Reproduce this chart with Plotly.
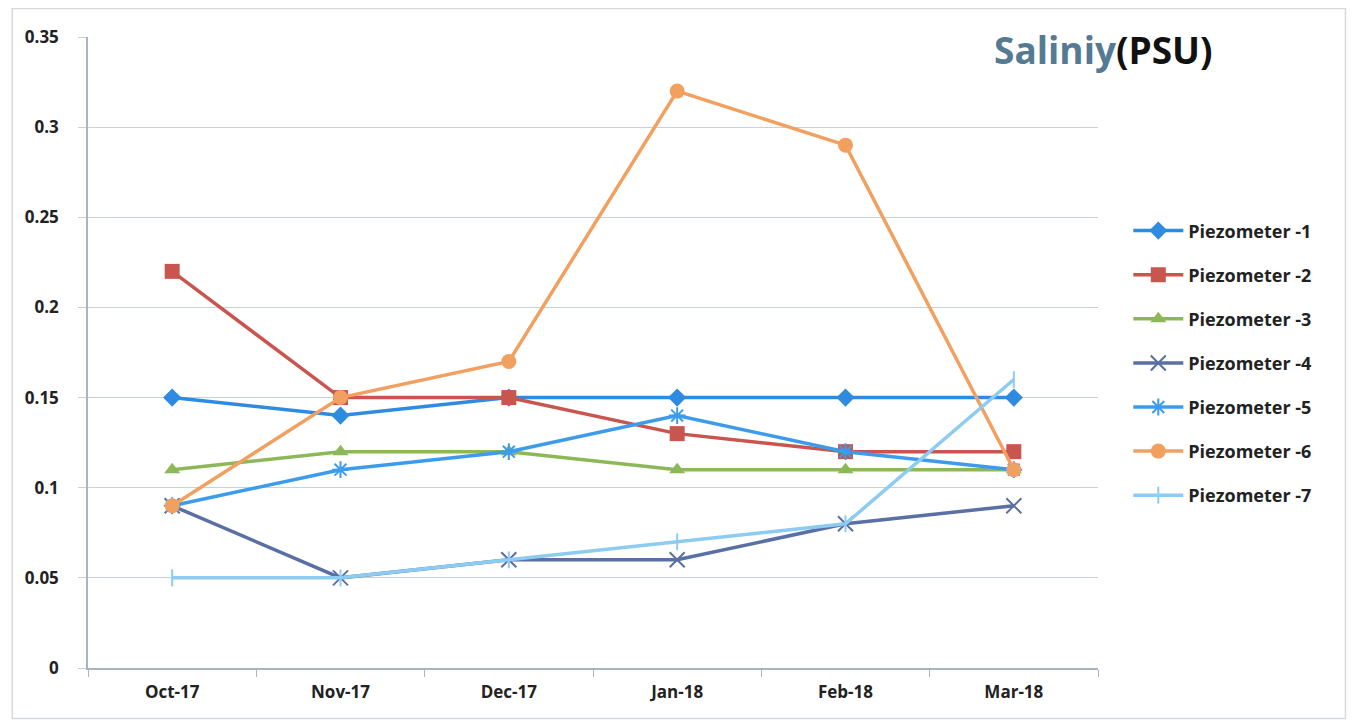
import plotly.graph_objects as go

months = ["Oct-17", "Nov-17", "Dec-17", "Jan-18", "Feb-18", "Mar-18"]
p1 = [0.15, 0.14, 0.15, 0.15, 0.15, 0.15]
p2 = [0.22, 0.15, 0.15, 0.13, 0.12, 0.12]
p3 = [0.11, 0.12, 0.12, 0.11, 0.11, 0.11]
p4 = [0.09, 0.05, 0.06, 0.06, 0.08, 0.09]
p5 = [0.09, 0.11, 0.12, 0.14, 0.12, 0.11]
p6 = [0.09, 0.15, 0.17, 0.32, 0.29, 0.11]
p7 = [0.05, 0.05, 0.06, 0.07, 0.08, 0.16]

names = ["Piezometer -1", "Piezometer -2", "Piezometer -3", "Piezometer -4",
         "Piezometer -5", "Piezometer -6", "Piezometer -7"]
series = [p1, p2, p3, p4, p5, p6, p7]
colors = ["#2F8BE0", "#C9554F", "#8DB85A", "#5A6FA3", "#3C9CEB", "#F2A060", "#8CCBF2"]
symbols = ["diamond", "square", "triangle-up", "x-thin-open", "asterisk-open", "circle", "line-ns-open"]
sizes = [14, 15, 14, 15, 14, 15, 12]

fig = go.Figure()
for i, (n, s) in enumerate(zip(names, series)):
    open_sym = symbols[i].endswith("-open")
    fig.add_trace(go.Scatter(
        x=months, y=s, name=n, mode="lines+markers",
        legendgroup=str(i),
        line=dict(color=colors[i], width=3.5),
        marker=dict(symbol=symbols[i], size=sizes[i], color=colors[i],
                    line=dict(color=colors[i], width=2 if open_sym else 0)),
    ))

fig.update_layout(
    width=1349, height=718,
    paper_bgcolor="white", plot_bgcolor="white",
    margin=dict(l=80, r=259, t=29, b=58),
    font=dict(family="Open Sans", size=15, color="#222222"),
    legend=dict(x=1.03, y=0.722, xanchor="left", yanchor="top",
                font=dict(size=18, color="#222222", family="Open Sans", weight="bold"),
                tracegroupgap=17.7, itemwidth=50, bgcolor="rgba(0,0,0,0)"),
    xaxis=dict(type="category", range=[-0.5, 5.5], showgrid=False,
               showline=True, linecolor="#A9B4BE", linewidth=1.5,
               ticks="outside", tickson="boundaries", ticklen=7, tickcolor="#A9B4BE",
               ticklabelstandoff=8,
               tickfont=dict(size=17, family="Open Sans", weight="bold", color="#222222")),
    yaxis=dict(range=[0, 0.35], dtick=0.05, showgrid=True, gridcolor="#C9D1D8",
               gridwidth=1.2, zeroline=False, showline=True, linecolor="#A9B4BE",
               linewidth=1.5, ticks="outside", ticklen=8, tickcolor="#C9D1D8",
               ticklabelstandoff=16,
               tickfont=dict(size=17, family="Open Sans", weight="bold", color="#222222")),
    annotations=[dict(
        xref="paper", yref="paper", x=0.895, y=0.98, xanchor="left", yanchor="middle",
        showarrow=False,
        text="<span style='color:#557A93'>Saliniy</span><span style='color:#111111'>(PSU)</span>",
        font=dict(size=37, family="Open Sans", weight="bold"))],
    shapes=[dict(type="rect", xref="paper", yref="paper",
                 x0=-0.075, x1=1.245, y0=-0.08, y1=1.045,
                 line=dict(color="#D5D9DD", width=1.5))],
)

fig.write_html("out.html")
